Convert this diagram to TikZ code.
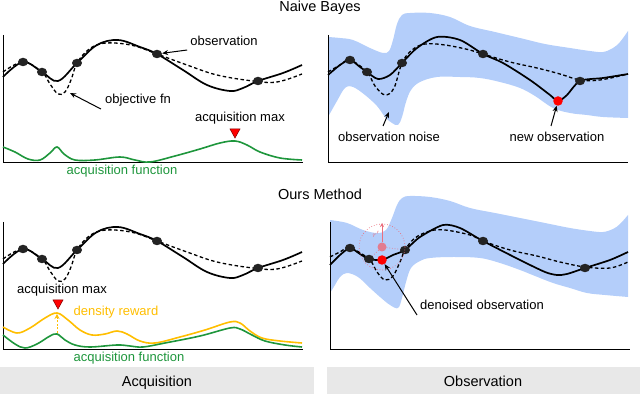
\documentclass[tikz,border=0pt]{standalone}
\usepackage{fontspec}
\setmainfont{Liberation Sans}
\usetikzlibrary{arrows.meta,shapes.geometric}
\definecolor{band}{RGB}{180,206,250}
\definecolor{acq}{RGB}{30,150,60}
\definecolor{dens}{RGB}{255,190,0}
\definecolor{pinkc}{RGB}{235,110,125}
\definecolor{boxgray}{RGB}{232,232,232}
\definecolor{dotc}{RGB}{35,35,35}
\tikzset{
  x=1pt, y=-1pt,
  lbl/.style={font=\fontsize{13}{15}\selectfont, inner sep=0pt, anchor=base},
  ttl/.style={font=\fontsize{14.5}{17}\selectfont, inner sep=0pt, anchor=base},
  solidc/.style={line width=1.7pt, black},
  dashc/.style={line width=1.3pt, black, dash pattern=on 3.5pt off 2.5pt},
  dot/.style={ellipse, fill=dotc, inner sep=0pt, minimum width=10pt, minimum height=8.5pt},
  reddot/.style={circle, fill=red, inner sep=0pt, minimum size=9.5pt},
  arr/.style={line width=1pt, -{Stealth[length=6pt,width=5pt]}},
  axisl/.style={line width=1pt, black},
  tri/.style={fill=red, draw=red!50!black, line width=0.5pt},
  crv/.style={line width=1.6pt},
}
\begin{document}
\begin{tikzpicture}
\useasboundingbox (0,0) rectangle (640,395);
% ---------- titles ----------
\node[ttl] (t1) at (320,12) {Naive Bayes};
\node[ttl] (t2) at (320,200) {Ours Method};
% ---------- bottom boxes ----------
\fill[boxgray] (0,367) rectangle (314,394);
\fill[boxgray] (327,367) rectangle (640,394);
\node[ttl] (acqlab) at (157,386) {Acquisition};
\node[ttl] (obslab) at (483,386) {Observation};

% ================= TOP-LEFT =================
\draw[axisl] (3,35) -- (3,163) -- (303,163);
\draw[dashc] plot[smooth, tension=0.6] coordinates {(3,72) (23,62) (42,72) (50,84) (58,94) (65,92) (71,80) (77,63) (88,50) (100,44) (115,43) (135,46) (157,54) (187,65) (217,75) (253,81) (277,82) (302,74)};
\draw[solidc] plot[smooth, tension=0.6] coordinates {(3,77) (23,62) (42,72) (58,81) (77,63) (97,45) (118,40) (140,47) (157,54) (183,70) (207,85) (230,91) (243,88) (258,81) (283,73) (302,65)};
\node[dot] (a1) at (23,62) {};
\node[dot] (a2) at (42,72) {};
\node[dot] (a3) at (77,63) {};
\node[dot] (a4) at (157,54) {};
\node[dot] (a5) at (258,81) {};
\draw[acq, crv] plot[smooth, tension=0.6] coordinates {(3,147) (15,152) (28,159) (40,160) (50,153) (57,147) (64,154) (75,160) (95,160) (120,157) (135,160) (150,162) (175,156) (200,149) (220,143) (235,141) (247,145) (260,152) (280,158) (302,160)};
\node[lbl] (obsA) at (224,46) {observation};
\node[lbl] (objA) at (138,104) {objective fn};
\node[lbl] (amaxA) at (240,122) {acquisition max};
\node[lbl, text=acq] (afA) at (122,175) {acquisition function};
\coordinate (objtip) at (70,93);
\draw[arr] ([xshift=-3pt,yshift=-4pt]obsA.base west) -- (a4);
\draw[arr] ([xshift=-4pt,yshift=-5pt]objA.base west) -- (objtip);
\draw[tri] (230,129) -- (240,129) -- (235,138) -- cycle;

% ================= TOP-RIGHT =================
\fill[band] plot[smooth, tension=0.6] coordinates {(328,37) (340,38) (353,40) (370,48) (383,53) (389,51) (393,40) (397,24) (402,15) (410,13) (430,13) (450,17) (470,26) (495,32) (520,38) (545,44) (570,48) (590,51) (603,52) (613,48) (620,42) (628,31)}
  -- plot[smooth, tension=0.6] coordinates {(628,118) (603,117) (587,115) (570,113) (553,108) (535,96) (520,88) (500,82) (480,78) (460,77) (437,77) (420,82) (411,90) (406,102) (402,117) (398,125) (392,123) (385,117) (377,106) (365,95) (353,87) (345,88) (337,101) (328,117)} -- cycle;
\draw[axisl] (328,35) -- (328,163) -- (628,163);
\draw[dashc] plot[smooth, tension=0.6] coordinates {(328,72) (340,65) (350,60) (367,72) (375,86) (385,95) (394,88) (402,63) (412,50) (425,44) (445,45) (470,50) (483,54) (510,62) (537,68) (560,74) (580,80) (600,80) (628,74)};
\draw[solidc] plot[smooth, tension=0.5] coordinates {(328,75) (340,65) (350,60) (360,67) (367,72) (378,79) (390,75) (402,63) (417,48) (437,37) (460,40) (483,54) (503,63) (530,80) (550,95) (558,101) (567,95) (580,81) (603,78) (628,74)};
\node[dot] (b1) at (350,60) {};
\node[dot] (b2) at (367,72) {};
\node[dot] (b3) at (402,63) {};
\node[dot] (b4) at (483,54) {};
\node[dot] (b5) at (580,81) {};
\node[reddot] (bnew) at (558,101) {};
\node[lbl] (noiseB) at (389,142) {observation noise};
\node[lbl] (newB) at (557,142) {new observation};
\coordinate (noisetip) at (389,112);
\draw[arr] ([xshift=-6pt,yshift=16pt]noiseB.base) -- (noisetip);
\draw[arr] ([xshift=-6pt,yshift=16pt]newB.base) -- (bnew);

% ================= BOTTOM-LEFT =================
\begin{scope}[shift={(0,187)}]
\draw[axisl] (3,35) -- (3,163) -- (303,163);
\draw[dashc] plot[smooth, tension=0.6] coordinates {(3,72) (23,62) (42,72) (50,84) (58,94) (65,92) (71,80) (77,63) (88,50) (100,44) (115,43) (135,46) (157,54) (187,65) (217,75) (253,81) (277,82) (302,74)};
\draw[solidc] plot[smooth, tension=0.6] coordinates {(3,77) (23,62) (42,72) (58,81) (77,63) (97,45) (118,40) (140,47) (157,54) (183,70) (207,85) (230,91) (243,88) (258,81) (283,73) (302,65)};
\node[dot] (c1) at (23,62) {};
\node[dot] (c2) at (42,72) {};
\node[dot] (c3) at (77,63) {};
\node[dot] (c4) at (157,54) {};
\node[dot] (c5) at (258,81) {};
\end{scope}
\draw[dens, crv] plot[smooth, tension=0.6] coordinates {(3,327) (17,333) (30,328) (45,318) (57,313) (68,320) (80,330) (92,335) (105,334) (117,331) (127,334) (140,341) (155,343) (180,337) (205,330) (230,322) (240,323) (250,331) (262,338) (280,341) (302,343)};
\draw[acq, crv] plot[smooth, tension=0.6] coordinates {(3,335) (15,344) (25,348) (37,344) (50,336) (57,334) (65,340) (75,345) (90,347) (117,345) (130,346) (143,347) (165,343) (200,336) (230,328) (240,329) (252,335) (265,341) (285,345) (302,347)};
\coordinate (gpk) at (57,333);
\coordinate (opk) at (57,314);
\draw[dens, line width=1pt, dash pattern=on 2pt off 1.5pt, -{Stealth[length=5pt,width=5pt]}] (gpk) -- (opk);
\node[lbl] (amaxC) at (62,294) {acquisition max};
\node[lbl, text=dens] (densC) at (116,316) {density reward};
\node[lbl, text=acq] (afC) at (129,362) {acquisition function};
\draw[tri] (53,300) -- (63,300) -- (58,309) -- cycle;

% ================= BOTTOM-RIGHT =================
\fill[band] plot[smooth, tension=0.6] coordinates {(330,220) (347,223) (363,230) (377,233) (386,230) (392,218) (397,205) (402,198) (410,196) (430,197) (450,201) (470,208) (495,213) (520,218) (545,223) (570,228) (590,231) (603,232) (613,229) (620,224) (628,215)}
  -- plot[smooth, tension=0.6] coordinates {(628,297) (605,295) (587,293) (570,288) (553,283) (535,276) (520,270) (500,263) (480,258) (453,257) (430,258) (420,261) (411,268) (406,282) (402,298) (398,308) (390,305) (380,297) (370,288) (358,277) (347,273) (340,277) (335,285) (330,293)} -- cycle;
\draw[axisl] (330,222) -- (330,350) -- (630,350);
\draw[dashc] plot[smooth, tension=0.6] coordinates {(330,257) (340,252) (350,248) (369,259) (377,272) (385,280) (393,276) (400,262) (405,250) (415,238) (430,231) (445,230) (470,235) (483,241) (510,250) (537,256) (560,262) (585,267) (610,268) (628,262)};
\draw[solidc] plot[smooth, tension=0.45] coordinates {(330,265) (340,255) (350,248) (360,254) (369,259) (382,260) (393,255) (405,250) (420,237) (443,225) (460,228) (483,241) (520,260) (545,272) (557,275) (567,274) (585,268) (610,260) (628,252)};
\node[dot] (d1) at (350,248) {};
\node[dot] (d2) at (369,259) {};
\node[dot] (d4) at (405,250) {};
\node[dot] (d5) at (483,241) {};
\node[dot] (d6) at (585,268) {};
% denoising construction
\node[circle, fill=pinkc, opacity=0.85, inner sep=0pt, minimum size=9pt] (pk) at (382,247) {};
\draw[pinkc, line width=0.7pt, dotted] (pk) circle[radius=23];
\draw[pinkc, line width=0.7pt, dotted] (pk) -- (d4);
\draw[pinkc, line width=0.7pt, dotted] (pk) -- (d2);
\coordinate (pkup) at (382,223);
\draw[pinkc, line width=1pt, -{Stealth[length=4pt,width=4pt]}] (pk) -- (pkup);
\node[text=pinkc, font=\fontsize{8}{9}\selectfont, inner sep=0pt] (rl) at (376,234) {$r'$};
\node[reddot] (dnew) at (382,260) {};
\node[lbl] (denD) at (482,310) {denoised observation};
\draw[arr] ([xshift=-3pt,yshift=-5pt]denD.base west) -- (dnew);
\end{tikzpicture}
\end{document}
